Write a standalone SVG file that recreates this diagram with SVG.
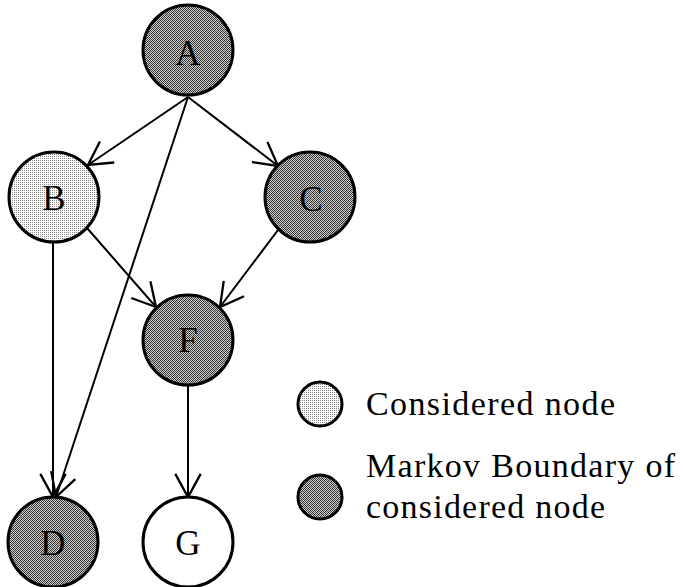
<svg xmlns="http://www.w3.org/2000/svg" width="683" height="587" viewBox="0 0 683 587">
<style>
.node{stroke:#000;stroke-width:3}
.dark{fill:url(#pdark)}
.light{fill:url(#plight)}
.white{fill:#fff}
.lbl{font-size:35px;fill:#000;text-anchor:middle}
.leg{font-size:34px;fill:#000}
.edge{stroke:#000;stroke-width:2;fill:none;marker-end:url(#arr)}
</style>
<defs>
<pattern id="pdark" patternUnits="userSpaceOnUse" width="4" height="4">
<rect width="4" height="4" fill="#d0d0d0"/>
<rect x="0" y="0" width="1" height="1" fill="#222"/>
<rect x="2" y="0" width="1" height="1" fill="#555"/>
<rect x="1" y="1" width="1" height="1" fill="#333"/>
<rect x="3" y="1" width="1" height="1" fill="#222"/>
<rect x="0" y="2" width="1" height="1" fill="#555"/>
<rect x="2" y="2" width="1" height="1" fill="#222"/>
<rect x="1" y="3" width="1" height="1" fill="#222"/>
<rect x="3" y="3" width="1" height="1" fill="#444"/>
</pattern>
<pattern id="plight" patternUnits="userSpaceOnUse" width="2" height="2">
<rect width="2" height="2" fill="#fff"/>
<rect x="0" y="0" width="1" height="1" fill="#888"/>
</pattern>
<marker id="arr" markerUnits="userSpaceOnUse" markerWidth="30" markerHeight="30" viewBox="-22 -13 24 26" refX="0" refY="0" orient="auto">
<path d="M-20,-11 L0,0 L-20,11" fill="none" stroke="#000" stroke-width="2"/>
</marker>
</defs>
<g id="connectors">
<line class="edge" x1="188" y1="97" x2="88" y2="165"/>
<line class="edge" x1="188" y1="97" x2="278" y2="166"/>
<line class="edge" x1="188" y1="97" x2="56" y2="497"/>
<line class="edge" x1="53" y1="243" x2="53" y2="497"/>
<line class="edge" x1="87" y1="228" x2="156" y2="307"/>
<line class="edge" x1="278" y1="230" x2="220" y2="307"/>
<line class="edge" x1="188" y1="386" x2="188" y2="497"/>
</g>
<g font-family="Liberation Serif, Times New Roman, DejaVu Serif, serif">
<g id="nodeA"><circle class="node dark" cx="188" cy="50" r="45"/><text class="lbl" x="188" y="65">A</text></g>
<g id="nodeB"><circle class="node light" cx="54" cy="197" r="45"/><text class="lbl" x="54" y="210">B</text></g>
<g id="nodeC"><circle class="node dark" cx="310" cy="197" r="45"/><text class="lbl" x="311" y="211">C</text></g>
<g id="nodeF"><circle class="node dark" cx="188" cy="340" r="45"/><text class="lbl" x="188" y="352">F</text></g>
<g id="nodeD"><circle class="node dark" cx="53" cy="542" r="45"/><text class="lbl" x="53" y="555">D</text></g>
<g id="nodeG"><circle class="node white" cx="188" cy="542" r="45"/><text class="lbl" x="188" y="555">G</text></g>
<g id="legend">
<circle class="node light" cx="320" cy="404" r="22"/>
<text class="leg" x="366" y="415" textLength="249" lengthAdjust="spacing">Considered node</text>
<circle class="node dark" cx="320" cy="497" r="22"/>
<text class="leg" x="366" y="477" textLength="309" lengthAdjust="spacing">Markov Boundary of</text>
<text class="leg" x="366" y="518" textLength="239" lengthAdjust="spacing">considered node</text>
</g>
</g>
</svg>
